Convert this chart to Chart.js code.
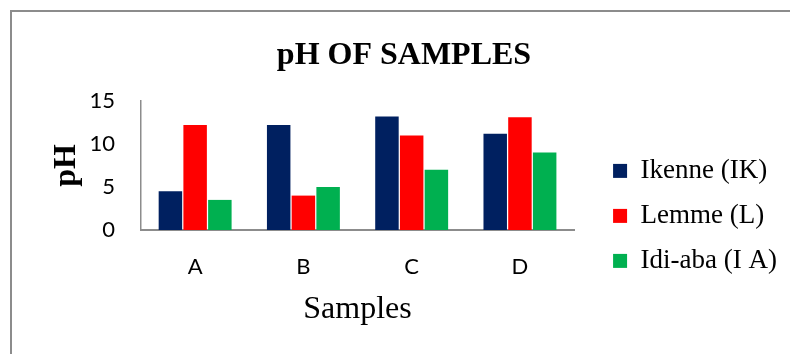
<!DOCTYPE html>
<html>
<head>
<meta charset="utf-8">
<script src="https://cdn.jsdelivr.net/npm/chart.js@4.4.0/dist/chart.umd.min.js"></script>
<style>
  body { margin: 0; background: #fff; }
  #wrap { position: relative; width: 790px; height: 354px; }
</style>
</head>
<body>
<div id="wrap"><canvas id="mycanvas"></canvas></div>
<script>
var samples = ["A", "B", "C", "D"];
var ikenne  = [4.5, 12.2, 13.2, 11.2];
var lemme   = [12.2, 4, 11, 13.1];
var idiAba  = [3.5, 5, 7, 9];
var yTicks  = [0, 5, 10, 15];

var serif = "'Liberation Serif', 'Times New Roman', serif";
var sans  = "Lato, 'Open Sans', sans-serif";
var axisGrey = "#8c8c8c";

// grey frame round the chart (left and top edges show)
var framePlugin = {
  id: "frame",
  beforeDraw: function(chart) {
    var ctx = chart.ctx;
    ctx.save();
    ctx.strokeStyle = axisGrey;
    ctx.lineWidth = 2;
    ctx.strokeRect(11, 11, 1000, 1000);
    ctx.restore();
  }
};

var chartdata = {
  labels: samples,
  datasets: [
    { label: "Ikenne (IK)",   backgroundColor: "#002060", data: ikenne },
    { label: "Lemme (L)",     backgroundColor: "#ff0000", data: lemme },
    { label: "Idi-aba (I A)", backgroundColor: "#00b050", data: idiAba }
  ]
};

var ctx = document.getElementById("mycanvas");

var barGraph = new Chart(ctx, {
  type: "bar",
  data: chartdata,
  plugins: [framePlugin],
  options: {
    responsive: true,
    maintainAspectRatio: false,
    animation: false,
    datasets: { bar: { categoryPercentage: 0.685, barPercentage: 0.95, borderWidth: 0 } },
    layout: { padding: { left: 21, right: 3, top: 0, bottom: 0 } },
    plugins: {
      title: {
        display: true,
        text: "pH OF SAMPLES",
        color: "#000",
        font: { family: serif, size: 32, weight: "bold", lineHeight: 1.2 },
        padding: { top: 37, bottom: 25.6 }
      },
      legend: {
        position: "right",
        align: "start",
        maxWidth: 300,
        title: { display: true, text: " ", font: { size: 12, lineHeight: 1.2 }, padding: 62.5 },
        labels: {
          color: "#000",
          font: { family: serif, size: 27 },
          boxWidth: 14,
          boxHeight: 14,
          padding: 18
        }
      },
      tooltip: { enabled: false }
    },
    scales: {
      x: {
        grid: { display: false, drawTicks: false },
        border: { display: true, color: axisGrey, width: 2 },
        ticks: { color: "#000", font: { family: sans, size: 22 }, padding: 24 },
        title: {
          display: true,
          text: "Samples",
          color: "#000",
          font: { family: serif, size: 32, lineHeight: 1.2 },
          padding: { top: 10, bottom: 24.8 }
        },
        afterFit: function(scale) { scale.height = 124; }
      },
      y: {
        min: 0,
        max: 15,
        grid: { display: false, drawTicks: false },
        border: { display: true, color: axisGrey, width: 1.5 },
        afterBuildTicks: function(scale) {
          scale.ticks = yTicks.map(function(v) { return { value: v }; });
        },
        ticks: { color: "#000", font: { family: sans, size: 22 }, padding: 26 },
        title: {
          display: true,
          text: "pH",
          color: "#000",
          font: { family: serif, size: 32, weight: "bold", lineHeight: 1.2 },
          padding: { top: 26.8, bottom: 0 }
        },
        afterFit: function(scale) { scale.width = 120; }
      },
      // empty spacer between the plot and the legend
      gap: {
        type: "linear",
        position: "right",
        grid: { display: false, drawTicks: false },
        border: { display: false },
        ticks: { display: false },
        afterFit: function(scale) { scale.width = 21; }
      }
    }
  }
});
</script>
</body>
</html>
